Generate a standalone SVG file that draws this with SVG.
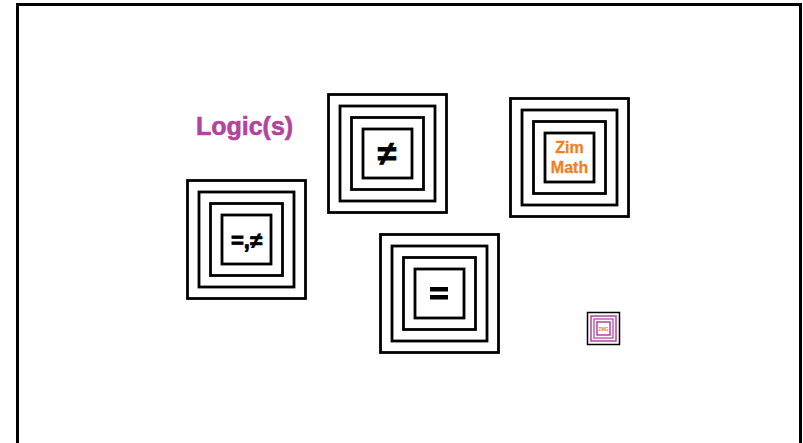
<svg xmlns="http://www.w3.org/2000/svg" width="803" height="443" viewBox="0 0 803 443">
<style>
.sq{fill:none;stroke:#000;stroke-width:2.8}
.sym{font-family:"Liberation Sans","DejaVu Sans",sans-serif;font-weight:bold;fill:#000;stroke:#000;stroke-width:0.8;text-anchor:middle}
.zim{font-family:"Liberation Sans",Arial,sans-serif;font-weight:bold;fill:#f08024;stroke:#f08024;stroke-width:0.3;text-anchor:middle;font-size:16px}
.ttl{font-family:"Liberation Sans",Arial,sans-serif;font-weight:bold;fill:#b2449e;stroke:#b2449e;stroke-width:0.6;font-size:25px;text-anchor:middle}
.sm{fill:none;stroke-width:1.5}
</style>
<rect x="0" y="0" width="803" height="443" fill="#fff"/>
<rect x="17.5" y="4.5" width="783" height="450" fill="none" stroke="#000" stroke-width="3"/>
<text class="ttl" x="244.5" y="135">Logic(s)</text>
<g id="node-eq-neq">
<rect class="sq" x="187.5" y="180.5" width="118" height="118"/>
<rect class="sq" x="199" y="192" width="95" height="95"/>
<rect class="sq" x="210.5" y="203.5" width="72" height="72"/>
<rect class="sq" x="222" y="215" width="49" height="49"/>
<text class="sym" x="246.5" y="247.5" font-size="22">=,≠</text>
</g>
<g id="node-neq">
<rect class="sq" x="328.5" y="94.5" width="118" height="118"/>
<rect class="sq" x="340" y="106" width="95" height="95"/>
<rect class="sq" x="351.5" y="117.5" width="72" height="72"/>
<rect class="sq" x="363" y="129" width="49" height="49"/>
<text class="sym" x="387" y="165" font-size="34">≠</text>
</g>
<g id="node-zimmath">
<rect class="sq" x="510.5" y="98.5" width="118" height="118"/>
<rect class="sq" x="522" y="110" width="95" height="95"/>
<rect class="sq" x="533.5" y="121.5" width="72" height="72"/>
<rect class="sq" x="545" y="133" width="49" height="49"/>
<text class="zim" x="569.5" y="152.5">Zim</text>
<text class="zim" x="569.5" y="173">Math</text>
</g>
<g id="node-eq">
<rect class="sq" x="380.5" y="234.5" width="118" height="118"/>
<rect class="sq" x="392" y="246" width="95" height="95"/>
<rect class="sq" x="403.5" y="257.5" width="72" height="72"/>
<rect class="sq" x="415" y="269" width="49" height="49"/>
<rect x="430" y="287" width="18" height="4.5" fill="#000"/>
<rect x="430" y="295" width="18" height="4.5" fill="#000"/>
</g>
<g id="node-small">
<rect class="sm" x="587.5" y="312.5" width="32" height="32" stroke="#000" stroke-width="2"/>
<rect class="sm" x="591" y="316" width="25" height="25" stroke="#b2449e"/>
<rect class="sm" x="594" y="319" width="19" height="19" stroke="#c060c0"/>
<rect class="sm" x="597" y="322" width="13" height="13" stroke="#b2449e"/>
<text x="603.5" y="330.5" font-family="Liberation Sans,sans-serif" font-weight="bold" font-size="4.5" fill="#f08024" text-anchor="middle">ZMG</text>
</g>
<g id="connectors"></g>
</svg>
